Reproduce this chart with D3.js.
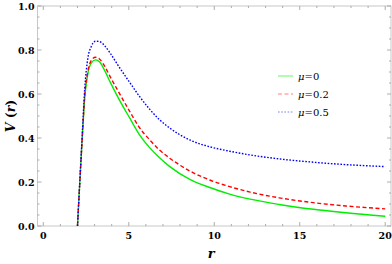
<!DOCTYPE html>
<html>
<head>
<meta charset="utf-8">
<script src="https://cdn.jsdelivr.net/npm/d3@7"></script>
<style>
  body { margin: 0; background: #fff; }
  svg { display: block; }
</style>
</head>
<body>
<div id="chart"></div>
<script>
// data
const rValues = [2, 2.1, 2.2, 2.3, 2.42, 2.6, 2.8, 3.05, 3.3, 3.6, 3.9, 4.4, 5.06, 5.6, 6.23, 6.8, 7.4, 8.57, 9.74, 10.9, 12.1, 13.8, 15.8, 17.7, 20];
const vMu0  = [0, 0.15, 0.29, 0.43, 0.58, 0.69, 0.74, 0.755, 0.745, 0.705, 0.656, 0.58, 0.49, 0.418, 0.355, 0.31, 0.27, 0.212, 0.175, 0.145, 0.122, 0.098, 0.076, 0.06, 0.044];
const vMu02 = [0, 0.15, 0.29, 0.43, 0.59, 0.70, 0.752, 0.767, 0.758, 0.725, 0.68, 0.61, 0.52, 0.45, 0.391, 0.345, 0.308, 0.25, 0.209, 0.179, 0.154, 0.128, 0.106, 0.091, 0.078];
const vMu05 = [0, 0.15, 0.3, 0.45, 0.62, 0.76, 0.815, 0.84, 0.838, 0.818, 0.787, 0.727, 0.652, 0.592, 0.53, 0.483, 0.445, 0.391, 0.36, 0.34, 0.323, 0.305, 0.29, 0.279, 0.27];
const seriesNames = ['0', '0.2', '0.5'];
const xTicks = [0, 5, 10, 15, 20];
const yTicks = [0, 0.2, 0.4, 0.6, 0.8, 1.0];

const W = 392, H = 264;
const pLeft = 37.5, pRight = 391, pTop = 6, pBottom = 226;
const serif = "'DejaVu Serif', 'Liberation Serif', 'Times New Roman', serif";

const svg = d3.select('#chart').append('svg')
    .attr('width', W)
    .attr('height', H)
    .attr('font-family', serif);

const xScale = d3.scaleLinear().domain([-0.34, 20.34]).range([pLeft, pRight]);
const yScale = d3.scaleLinear().domain([0, 1]).range([pBottom, pTop]);

const series = [
    { name: seriesNames[0], values: vMu0, color: '#00ee00', dash: null },
    { name: seriesNames[1], values: vMu02, color: '#ff0000', dash: '4,2.5' },
    { name: seriesNames[2], values: vMu05, color: '#0000ff', dash: '1.6,1.6' }
];

// frame
svg.append('rect')
    .attr('x', pLeft).attr('y', pTop)
    .attr('width', pRight - pLeft).attr('height', pBottom - pTop)
    .attr('fill', 'none')
    .attr('stroke', '#c8c8c8')
    .attr('stroke-width', 1);

// ticks on all four sides
const tickColor = '#999';
const gTicks = svg.append('g').attr('stroke', tickColor).attr('stroke-width', 0.8);
d3.range(0, 21, 1).forEach(v => {
    const len = v % 5 === 0 ? 4 : 2;
    const x = xScale(v);
    gTicks.append('line').attr('x1', x).attr('x2', x).attr('y1', pBottom).attr('y2', pBottom - len);
    gTicks.append('line').attr('x1', x).attr('x2', x).attr('y1', pTop).attr('y2', pTop + len);
});
d3.range(0, 21, 1).map(d => d * 0.05).forEach((v, i) => {
    const len = i % 4 === 0 ? 4 : 2;
    const y = yScale(v);
    gTicks.append('line').attr('x1', pLeft).attr('x2', pLeft + len).attr('y1', y).attr('y2', y);
    gTicks.append('line').attr('x1', pRight).attr('x2', pRight - len).attr('y1', y).attr('y2', y);
});

// tick labels
svg.append('g').selectAll('text')
    .data(xTicks)
    .enter()
    .append('text')
    .attr('x', d => xScale(d))
    .attr('y', pBottom + 13)
    .attr('text-anchor', 'middle')
    .attr('font-size', 9.5)
    .attr('font-weight', 'bold')
    .text(d => d);

svg.append('g').selectAll('text')
    .data(yTicks)
    .enter()
    .append('text')
    .attr('x', pLeft - 3)
    .attr('y', d => yScale(d) + 3.5)
    .attr('text-anchor', 'end')
    .attr('font-size', 9.5)
    .attr('font-weight', 'bold')
    .text(d => d.toFixed(1));

// axis labels
const yLab = svg.append('text')
    .attr('transform', `translate(15, ${(pTop + pBottom) / 2}) rotate(-90)`)
    .attr('text-anchor', 'middle')
    .attr('font-size', 12.5)
    .attr('font-weight', 'bold')
    .attr('font-style', 'italic');
yLab.append('tspan').text('V');
yLab.append('tspan').attr('font-style', 'normal').text(' (');
yLab.append('tspan').text('r');
yLab.append('tspan').attr('font-style', 'normal').text(')');

svg.append('text')
    .attr('x', xScale(10) - 3)
    .attr('y', 258)
    .attr('text-anchor', 'middle')
    .attr('font-size', 13)
    .attr('font-weight', 'bold')
    .attr('font-style', 'italic')
    .text('r');

// curves
const lineMaker = d3.line()
    .x((d, i) => xScale(rValues[i]))
    .y(d => yScale(d))
    .curve(d3.curveMonotoneX);

svg.append('g').selectAll('path')
    .data(series)
    .enter()
    .append('path')
    .attr('d', d => lineMaker(d.values))
    .attr('fill', 'none')
    .attr('stroke', d => d.color)
    .attr('stroke-width', 1.4)
    .attr('stroke-dasharray', d => d.dash);

// legend
const gLegend = svg.append('g').attr('transform', 'translate(278, 76)');
series.forEach((s, i) => {
    const g = gLegend.append('g').attr('transform', `translate(0, ${i * 18})`);
    g.append('line')
        .attr('x1', 0).attr('x2', 15).attr('y1', 0).attr('y2', 0)
        .attr('stroke', s.color)
        .attr('stroke-opacity', 0.5)
        .attr('stroke-width', 1.2)
        .attr('stroke-dasharray', s.dash);
    const t = g.append('text')
        .attr('x', 20).attr('y', 3.5)
        .attr('font-size', 10);
    t.append('tspan').attr('font-style', 'italic').text('μ');
    t.append('tspan').text('=' + s.name);
});
</script>
</body>
</html>
